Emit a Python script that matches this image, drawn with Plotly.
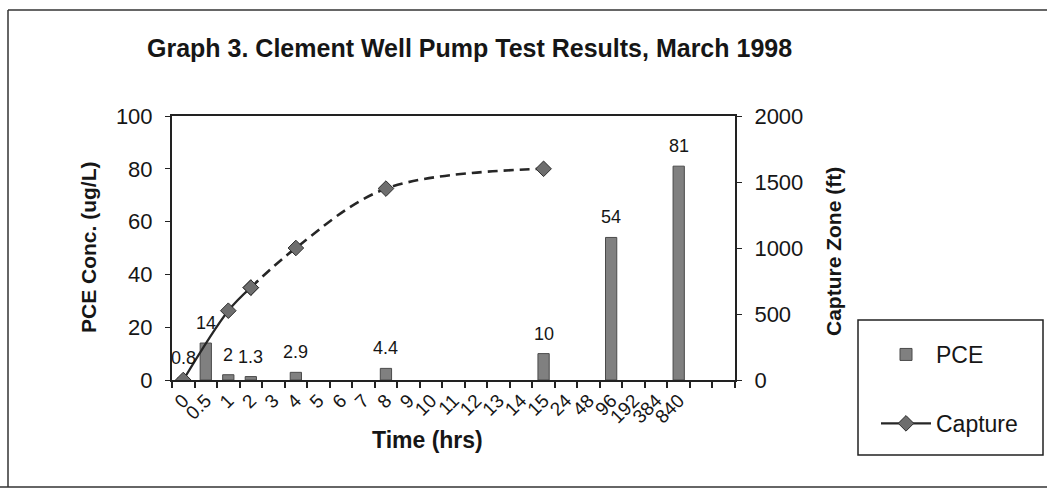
import plotly.graph_objects as go

# Time slots on the category axis (hours); the last two slots carry no label
time_labels = ["0", "0.5", "1", "2", "3", "4", "5", "6", "7", "8", "9", "10",
               "11", "12", "13", "14", "15", "24", "48", "96", "192", "384", "840", "", ""]

# PCE concentration (ug/L) by sampling time
pce_times = ["0", "0.5", "1", "2", "4", "8", "15", "96", "840"]
pce_values = [0.8, 14, 2, 1.3, 2.9, 4.4, 10, 54, 81]

# Capture zone (ft) by time; early part measured (solid), later part projected (dashed)
capture_times = ["0", "1", "2", "4", "8", "15"]
capture_values = [0, 525, 700, 1000, 1450, 1600]
solid_count = 3  # first three points joined by a solid line

slot = {t: i for i, t in enumerate(time_labels) if t}
pce_x = [slot[t] for t in pce_times]
cap_x = [slot[t] for t in capture_times]

FONT = "Liberation Sans, Arial, sans-serif"
INK = "#161616"

# Plot-area pixel box, used to place decorations in paper coordinates
L, R, T, B = 172, 735, 116, 380
W, H = 1047, 496
PW, PH = R - L, B - T


def px(x):
    return (x - L) / PW


def py(y):
    return (B - y) / PH


fig = go.Figure()

fig.add_trace(go.Bar(
    x=pce_x, y=pce_values, width=0.5, name="PCE",
    marker=dict(color="#808080", line=dict(color="#4a4a4a", width=1)),
    legendgroup="pce", yaxis="y",
))

marker_style = dict(symbol="diamond", size=12, color="#6e6e6e",
                    line=dict(color="#2e2e2e", width=1))

fig.add_trace(go.Scatter(
    x=cap_x[:solid_count], y=capture_values[:solid_count], name="Capture",
    mode="lines+markers", yaxis="y2", legendgroup="cap",
    line=dict(color="#262626", width=2.2, shape="spline"),
    marker=marker_style,
))
fig.add_trace(go.Scatter(
    x=cap_x[solid_count - 1:], y=capture_values[solid_count - 1:],
    mode="lines+markers", yaxis="y2", showlegend=False, legendgroup="cap",
    line=dict(color="#262626", width=2.6, dash="10px,6px", shape="spline"),
    marker=marker_style,
))

annotations = []
for x, v in zip(pce_x, pce_values):
    annotations.append(dict(
        x=x, y=v, xref="x", yref="y", text=f"{v:g}", showarrow=False,
        xanchor="center", yanchor="middle",
        yshift=20, font=dict(size=18, color=INK, family=FONT),
    ))


def label(text, x, y, size, angle=0):
    return dict(text=text, x=px(x), y=py(y), xref="paper", yref="paper",
                showarrow=False, xanchor="center", yanchor="middle", textangle=angle,
                font=dict(size=size, color=INK, family=FONT, weight="bold"))


annotations += [
    label("Graph 3. Clement Well Pump Test Results, March 1998", 469, 48, 25),
    label("PCE Conc. (ug/L)", 88, 247, 21, -90),
    label("Capture Zone (ft)", 833, 252, 21, -90),
    label("Time (hrs)", 427, 440, 23),
]

frame = dict(type="line", xref="paper", yref="paper",
             line=dict(color="#333333", width=1.5))
shapes = [
    dict(frame, x0=px(8), x1=px(8), y0=py(487), y1=py(10)),
    dict(frame, x0=px(8), x1=px(W), y0=py(10), y1=py(10)),
    dict(frame, x0=px(0), x1=px(W), y0=py(487), y1=py(487)),
    dict(type="rect", xref="paper", yref="paper",
         x0=px(858), x1=px(1043), y0=py(455), y1=py(320),
         line=dict(color="#222222", width=1.5)),
]

fig.update_layout(
    width=W, height=H,
    margin=dict(l=L, r=W - R, t=T, b=H - B, pad=0),
    paper_bgcolor="white", plot_bgcolor="white",
    font=dict(family=FONT, color=INK),
    showlegend=True,
    legend=dict(x=px(876), y=py(333), xanchor="left", yanchor="top",
                font=dict(size=23, color=INK, family=FONT),
                bgcolor="rgba(0,0,0,0)", borderwidth=0,
                traceorder="grouped", tracegroupgap=36, itemwidth=50),
    xaxis=dict(
        range=[-0.5, len(time_labels) - 0.5],
        tickmode="array", tickvals=list(range(len(time_labels))), ticktext=time_labels,
        tickangle=-45, ticks="", tickfont=dict(size=19, color=INK),
        minor=dict(ticks="outside", tick0=-0.5, dtick=1, ticklen=6,
                   tickcolor="#222222", tickwidth=1.5),
        showline=True, linecolor="#222222", linewidth=2, mirror=True,
        showgrid=False, zeroline=False,
    ),
    yaxis=dict(
        range=[0, 100], dtick=20, ticks="outside", ticklen=5, tickcolor="#222222",
        tickfont=dict(size=22, color=INK), showline=True, linecolor="#222222",
        linewidth=2, showgrid=False, zeroline=False, ticklabelstandoff=8,
    ),
    yaxis2=dict(
        range=[0, 2000], dtick=500, ticks="outside", ticklen=5, tickcolor="#222222",
        tickfont=dict(size=22, color=INK), showline=True, linecolor="#222222",
        linewidth=2, showgrid=False, zeroline=False, overlaying="y", side="right",
        ticklabelstandoff=8,
    ),
    annotations=annotations,
    shapes=shapes,
    bargap=0.5,
)

fig.write_html("out.html")
